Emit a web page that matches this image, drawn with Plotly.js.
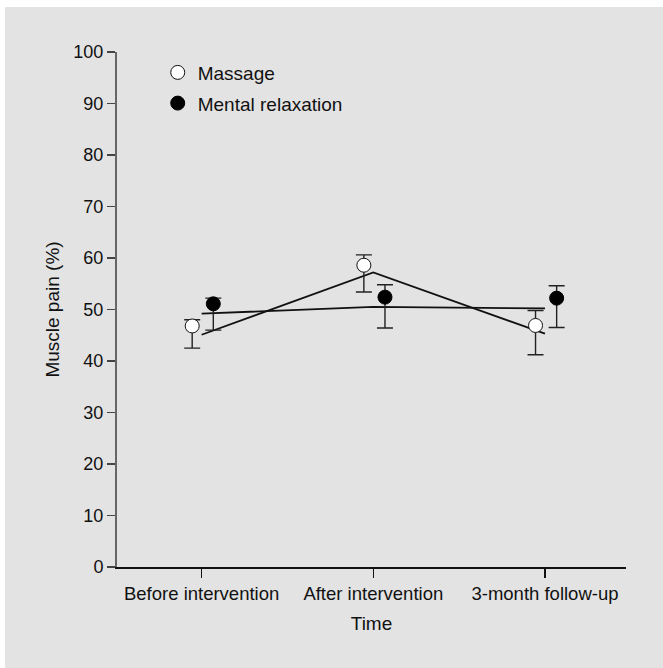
<!DOCTYPE html>
<html>
<head>
<meta charset="utf-8">
<script src="https://cdn.plot.ly/plotly-3.0.1.min.js"></script>
<style>
  html, body { margin: 0; padding: 0; background: #ffffff; }
  #chart { position: absolute; left: 5px; top: 7px; width: 658px; height: 661px; background: #e3e3e3; }
</style>
</head>
<body>
<div id="chart"></div>
<script>
// Category labels
const categories = ["Before intervention", "After intervention", "3-month follow-up"];
const catPos = [0, 1, 2];

// Massage (open circles)
const massageMean  = [46.8, 58.6, 46.9];
const massageUpper = [48.0, 60.6, 49.8];
const massageLower = [42.5, 53.4, 41.2];
const massageFit   = [45.1, 57.2, 45.3];

// Mental relaxation (filled circles)
const relaxMean  = [51.1, 52.4, 52.2];
const relaxUpper = [52.2, 54.8, 54.6];
const relaxLower = [46.0, 46.4, 46.5];
const relaxFit   = [49.2, 50.5, 50.2];

const massageOffset = -0.055;
const relaxOffset = 0.068;

const FONT = "Liberation Sans, Arial, Helvetica, sans-serif";

const traces = [
  {
    x: catPos, y: massageFit, mode: "lines", type: "scatter",
    line: {color: "#111111", width: 1.8}, showlegend: false, hoverinfo: "skip"
  },
  {
    x: catPos, y: relaxFit, mode: "lines", type: "scatter",
    line: {color: "#111111", width: 1.8}, showlegend: false, hoverinfo: "skip"
  },
  {
    name: "Massage", legendgroup: "a",
    x: catPos.map(v => v + massageOffset), y: massageMean,
    mode: "markers", type: "scatter",
    marker: {symbol: "circle", size: 14, color: "#ffffff", line: {color: "#111111", width: 1}},
    error_y: {type: "data", symmetric: false,
      array: massageUpper.map((u, i) => u - massageMean[i]),
      arrayminus: massageLower.map((l, i) => massageMean[i] - l),
      color: "#222222", thickness: 1.4, width: 8}
  },
  {
    name: "Mental relaxation", legendgroup: "b",
    x: catPos.map(v => v + relaxOffset), y: relaxMean,
    mode: "markers", type: "scatter",
    marker: {symbol: "circle", size: 14, color: "#000000", line: {color: "#000000", width: 1}},
    error_y: {type: "data", symmetric: false,
      array: relaxUpper.map((u, i) => u - relaxMean[i]),
      arrayminus: relaxLower.map((l, i) => relaxMean[i] - l),
      color: "#222222", thickness: 1.4, width: 8}
  }
];

const layout = {
  width: 658, height: 661,
  margin: {l: 112, r: 37, t: 45, b: 101},
  paper_bgcolor: "#e3e3e3",
  plot_bgcolor: "#e3e3e3",
  font: {family: FONT, size: 18, color: "#111111"},
  showlegend: true,
  legend: {
    x: 0.08, xanchor: "left", y: 0.997, yanchor: "top",
    bgcolor: "rgba(0,0,0,0)", font: {family: FONT, size: 19, color: "#111111"},
    traceorder: "grouped", tracegroupgap: 3
  },
  xaxis: {
    range: [-0.493, 2.472],
    tickmode: "array", tickvals: catPos, ticktext: categories,
    showgrid: false, zeroline: false,
    showline: true, linecolor: "#111111", linewidth: 1.5,
    ticks: "outside", ticklen: 9, tickwidth: 1.4, tickcolor: "#111111",
    tickfont: {family: FONT, size: 18.5, color: "#111111"},
    title: {text: "Time", font: {family: FONT, size: 19, color: "#111111"}, standoff: 14}
  },
  yaxis: {
    range: [0, 100],
    tickmode: "array", tickvals: [0,10,20,30,40,50,60,70,80,90,100],
    showgrid: false, zeroline: false,
    showline: true, linecolor: "#666666", linewidth: 2,
    ticks: "outside", ticklen: 8, tickwidth: 1.4, tickcolor: "#444444",
    tickfont: {family: FONT, size: 18, color: "#111111"},
    title: {text: "Muscle pain (%)", font: {family: FONT, size: 19, color: "#111111"}, standoff: 9}
  }
};

Plotly.newPlot("chart", traces, layout, {displayModeBar: false, staticPlot: true});
</script>
</body>
</html>
